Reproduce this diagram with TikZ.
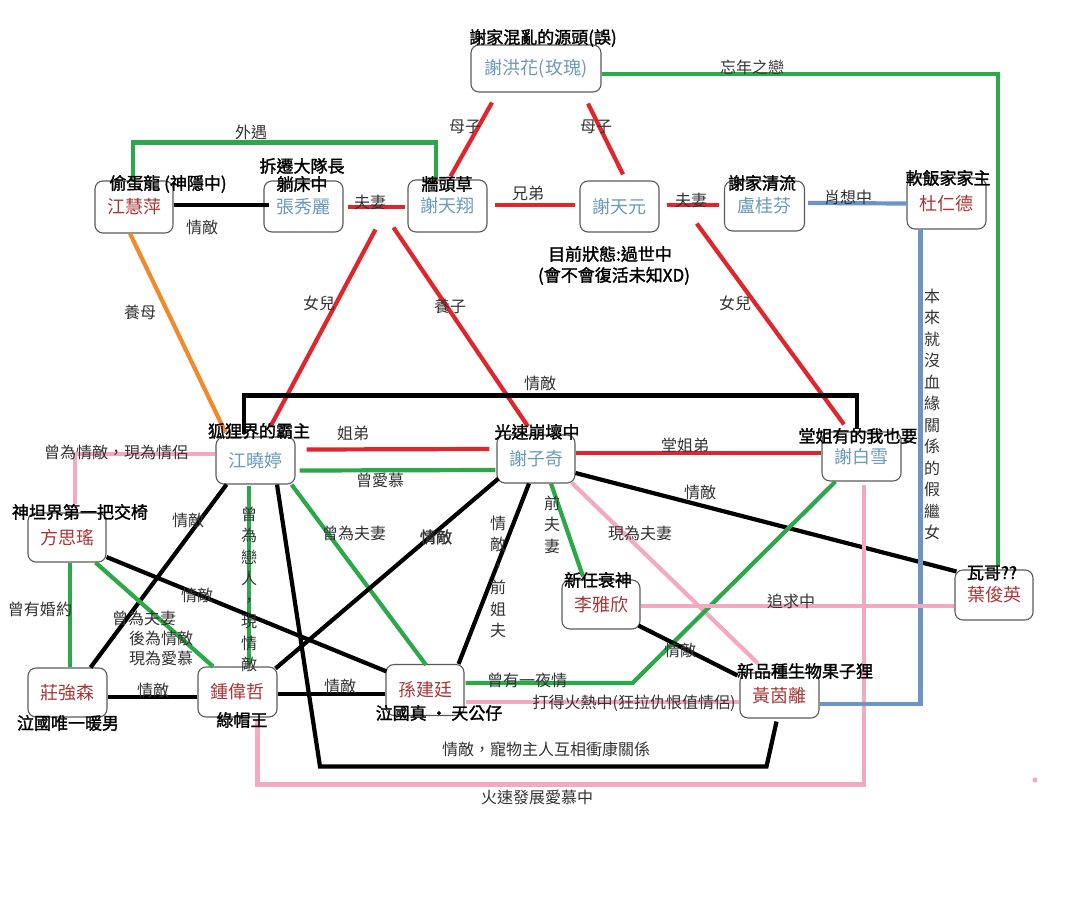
\documentclass[tikz,border=0pt]{standalone}
\usepackage{fontspec}
\setmainfont{Noto Sans CJK TC}
\newfontfamily\bcjk{Noto Sans CJK TC}[FakeBold=1.6]
\usetikzlibrary{calc}
\definecolor{lred}{HTML}{E0262C}
\definecolor{lgreen}{HTML}{2BA84A}
\definecolor{lpink}{HTML}{F4A9C2}
\definecolor{lorange}{HTML}{F08A2C}
\definecolor{lblue}{HTML}{6E93C5}
\definecolor{nblue}{HTML}{6A9AB8}
\definecolor{nred}{HTML}{A83636}
\definecolor{boxc}{HTML}{5A5A5A}
\definecolor{labc}{HTML}{333333}
\begin{document}
\begin{tikzpicture}[x=1pt,y=-1pt,
  every node/.style={inner sep=0pt},
  box/.style={draw=boxc,line width=1.1pt,rounded corners=8pt,minimum width=78pt,minimum height=50pt,font=\fontsize{18}{20}\selectfont},
  nb/.style={box,text=nblue},
  nr/.style={box,text=nred},
  tag/.style={font=\bcjk\fontsize{17}{19}\selectfont,text=black},
  lab/.style={font=\fontsize{16}{18}\selectfont,text=labc},
  blab/.style={font=\bcjk\fontsize{16}{18}\selectfont,text=labc},
  vlab/.style={align=center,anchor=north,text=labc,font=\fontsize{16}{21.5}\selectfont},
  con/.style={line width=4.2pt},
  cr/.style={con,draw=lred}, cg/.style={con,draw=lgreen}, ck/.style={con,draw=black},
  cp/.style={con,draw=lpink}, co/.style={con,draw=lorange}, cb/.style={con,draw=lblue}]
\useasboundingbox (0,0) rectangle (1083,910);
% boxes
\node[nb,minimum width=130pt,minimum height=47pt] (hh) at (536,68.5) {謝洪花(玫瑰)};
\node[nr,minimum height=52pt] (jhp) at (134,207) {江慧萍};
\node[nb,minimum width=79pt,minimum height=51pt] (zxl) at (303.5,206.5) {張秀麗};
\node[nb,minimum width=79pt,minimum height=52pt] (xtx) at (447.5,206) {謝天翔};
\node[nb,minimum width=79pt,minimum height=51pt] (xty) at (619.5,206.5) {謝天元};
\node[nb,minimum width=80pt] (lgf) at (764.5,206) {盧桂芬};
\node[nr,minimum width=79pt,minimum height=51pt] (drd) at (946.5,203.5) {杜仁德};
\node[nb,minimum width=79pt,minimum height=47pt] (jxt) at (255.5,460.5) {江曉婷};
\node[nb,minimum height=48pt] (xzq) at (536,459) {謝子奇};
\node[nb,minimum width=79pt,minimum height=49pt] (xbx) at (861.5,456.5) {謝白雪};
\node[nr,minimum height=49pt] (fsy) at (67,537.5) {方思瑤};
\node[nr,minimum height=49pt] (lyx) at (601,604.5) {李雅欣};
\node[nr] (yjy) at (994,595) {葉俊英};
\node[nr,minimum width=79pt,minimum height=49pt] (zqs) at (67.5,692.5) {莊強森};
\node[nr,minimum width=79pt] (zwz) at (237.5,692) {鍾偉哲};
\node[nr,minimum height=51pt] (sjt) at (425,690) {孫建廷};
\node[nr,minimum width=79pt,minimum height=45pt] (hyl) at (779.5,695.5) {黃茵離};
% connectors
\draw[cg] ($(hh.east)+(0,5.5)$) -| ($(yjy.north)+(4,-3)$);
\draw[cr] ($(hh.south)+(-44,10)$) -- ($(xtx.north)+(3,-3)$);
\draw[cr] ($(hh.south)+(52,11)$) -- ($(xty.north)+(3.5,-6)$);
\draw[cg] ($(jhp.north)+(-1,0)$) -- ++(0,-38) -| ($(xtx.north)+(-11.5,1)$);
\draw[ck] ($(jhp.east)+(0,-2)$) -- ($(zxl.west)+(6,-1.5)$);
\draw[cr] ($(zxl.east)+(4,0.5)$) -- ($(xtx.west)+(-2,1)$);
\draw[cr] ($(xtx.east)+(7,-1)$) -- ($(xty.west)+(-4,-1.5)$);
\draw[cr] ($(xty.east)+(7,-1.5)$) -- ($(lgf.west)+(-5,-1)$);
\draw[cb] ($(lgf.east)+(3,-3)$) -- (drd.west);
\draw[co] ($(jhp.south)+(-4,0)$) -- ($(jxt.north)+(-30,-4)$);
\draw[cr] ($(zxl.south east)!.5!(xtx.south west)+(0,-3)$) -- ($(jxt.north)+(15,-10)$);
\draw[cr] ($(zxl.south east)!.5!(xtx.south west)+(18,-5)$) -- ($(xzq.north)+(-8,-8)$);
\draw[cr] ($(xty.south east)!.5!(lgf.south west)+(5,-8.5)$) -- ($(xbx.north)+(-17.5,-7)$);
\draw[ck] ($(jxt.north)+(-11.5,-2)$) -- ++(0,-39) -| ($(xbx.north)+(-4.5,-2)$);
\draw[cr] ($(jxt.east)+(11,-11)$) -- ($(xzq.west)+(-7,-10)$);
\draw[cg] ($(jxt.east)+(4,10)$) -- ($(xzq.west)+(-1,11)$);
\draw[cr] ($(xzq.east)+(0,-6)$) -- ($(xbx.west)+(0,-3.5)$);
\draw[cp] ($(jxt.west)+(0,-6.5)$) -| ($(fsy.north)+(8,-8)$);
\draw[ck] ($(jxt.south)+(-29,0)$) -- ($(zqs.north east)+(-17,0)$);
\draw[cg] ($(jxt.south)+(-6.5,1)$) -- ($(zwz.north)+(11.5,0)$);
\draw[ck] ($(jxt.south)+(21.5,0)$) -- ($(jxt.south)+(64.5,282)$) -- ($(hyl.south)+(-13,48)$) -- ($(hyl.south)+(-3,3)$);
\draw[cg] ($(jxt.south east)+(-4,0)$) -- ($(sjt.north)+(1,1)$);
\draw[ck] ($(xzq.south west)+(2,-5)$) -- ($(zwz.north east)+(-2,2)$);
\draw[ck] ($(xzq.south)+(-7,0)$) -- ($(sjt.north east)+(-6,0)$);
\draw[cg] ($(xzq.south)+(15,0)$) -- ($(lyx.north)+(-18,-3)$);
\draw[cp] ($(xzq.south east)+(-4,-1)$) -- ($(hyl.north)+(-21.5,-9)$);
\draw[ck] ($(xzq.east)+(0,14)$) -- ($(yjy.north west)+(2,2)$);
\draw[cg] ($(xbx.south west)+(14,0)$) -- ($(sjt.east)+(168,-7)$) -- ($(sjt.east)+(1,-7)$);
\draw[cp] ($(xbx.south)+(2.5,3)$) |- ($(zwz.south)+(20,67)$) -- ($(zwz.south)+(20,1)$);
\draw[cg] ($(fsy.south)+(3,0)$) -- ($(zqs.north)+(2.5,0)$);
\draw[cg] ($(fsy.south east)+(-11,0)$) -- ($(zwz.north)+(-24.5,0)$);
\draw[ck] ($(fsy.east)+(0,19.5)$) -- ($(sjt.north west)+(1,7.5)$);
\draw[ck] ($(zqs.east)+(0,4.5)$) -- ($(zwz.west)+(0,5)$);
\draw[ck] ($(zwz.east)+(0,2)$) -- ($(sjt.west)+(0,4)$);
\draw[cp] ($(sjt.east)+(1,12)$) -- ($(hyl.west)+(0,6.5)$);
\draw[cb] ($(hyl.east)+(0,8.5)$) -| ($(drd.south west)+(14,0)$);
\draw[cp] ($(lyx.east)+(0,1.5)$) -- ($(yjy.west)+(0,11)$);
\draw[ck] ($(lyx.south east)+(-2,-4)$) -- ($(hyl.north west)+(-2,3)$);
\fill[lpink] (1035,780) circle (2.5pt);
% tags
\node[tag] (t1) at (543,38) {謝家混亂的源頭(誤)};
\node[tag] (t2) at (168,184) {偷蛋龍 (神隱中)};
\node[tag] (t3) at (302,166) {拆遷大隊長};
\node[tag] (t4) at (302,184) {躺床中};
\node[tag] (t5) at (447,184) {牆頭草};
\node[tag] (t6) at (762,183) {謝家清流};
\node[tag] (t7) at (948,178) {軟飯家家主};
\node[tag] (t8) at (610,254) {目前狀態:過世中};
\node[tag] (t9) at (614,276) {(會不會復活未知XD)};
\node[tag] (t10) at (259,431) {狐狸界的霸主};
\node[tag] (t11) at (537,432) {光速崩壞中};
\node[tag] (t12) at (858,436) {堂姐有的我也要};
\node[tag] (t13) at (80,512) {神坦界第一把交椅};
\node[tag] (t14) at (598,580) {新任衰神};
\node[tag] (t15) at (992,573) {瓦哥??};
\node[tag] (t16) at (68,723) {泣國唯一暖男};
\node[tag] (t17) at (242,720) {綠帽王};
\node[tag] (t18) at (439,713) {泣國真 • 天公仔};
\node[tag] (t19) at (805,671) {新品種生物果子狸};
% edge labels
\node[lab] (e1) at (752,67) {忘年之戀};
\node[lab] (e2) at (465,127) {母子};
\node[lab] (e3) at (596,127) {母子};
\node[lab] (e4) at (251,132) {外遇};
\node[lab] (e5) at (202,227) {情敵};
\node[lab] (e6) at (370,202) {夫妻};
\node[lab] (e7) at (528,193) {兄弟};
\node[lab] (e8) at (691,200) {夫妻};
\node[lab] (e9) at (848,197) {肖想中};
\node[lab] (e10) at (140,312) {養母};
\node[lab] (e11) at (319,303) {女兒};
\node[lab] (e12) at (450,306) {養子};
\node[lab] (e13) at (735,303) {女兒};
\node[lab] (e14) at (540,383) {情敵};
\node[lab] (e15) at (353,433) {姐弟};
\node[lab] (e16) at (380,480) {曾愛慕};
\node[lab] (e17) at (685,445) {堂姐弟};
\node[lab] (e18) at (116,452) {曾為情敵，現為情侶};
\node[lab] (e19) at (188,520) {情敵};
\node[lab] (e20) at (354,533) {曾為夫妻};
\node[blab] (e21) at (436,537) {情敵};
\node[lab] (e22) at (640,533) {現為夫妻};
\node[lab] (e23) at (700,492) {情敵};
\node[lab] (e24) at (40,609) {曾有婚約};
\node[lab] (e25) at (197,595) {情敵};
\node[lab] (e26) at (144,618) {曾為夫妻};
\node[lab] (e27) at (161,638) {後為情敵};
\node[lab] (e28) at (161,658) {現為愛慕};
\node[lab] (e29) at (791,601) {追求中};
\node[lab] (e30) at (680,650) {情敵};
\node[lab] (e31) at (153,690) {情敵};
\node[lab] (e32) at (340,686) {情敵};
\node[lab] (e33) at (527,680) {曾有一夜情};
\node[lab] (e34) at (634,703) {打得火熱中(狂拉仇恨值情侶)};
\node[lab] (e35) at (546,749) {情敵，寵物主人互相衝康關係};
\node[lab] (e36) at (537,797) {火速發展愛慕中};
\node[vlab] (v1) at (249,506.5) {曾\\為\\戀\\人\\，\\現\\情\\敵};
\node[vlab] (v2) at (498,515.5) {情\\敵\\，\\前\\姐\\夫};
\node[vlab] (v3) at (552,495.5) {前\\夫\\妻};
\node[vlab] (v4) at (932,288.5) {本\\來\\就\\沒\\血\\緣\\關\\係\\的\\假\\繼\\女};
\end{tikzpicture}
\end{document}
